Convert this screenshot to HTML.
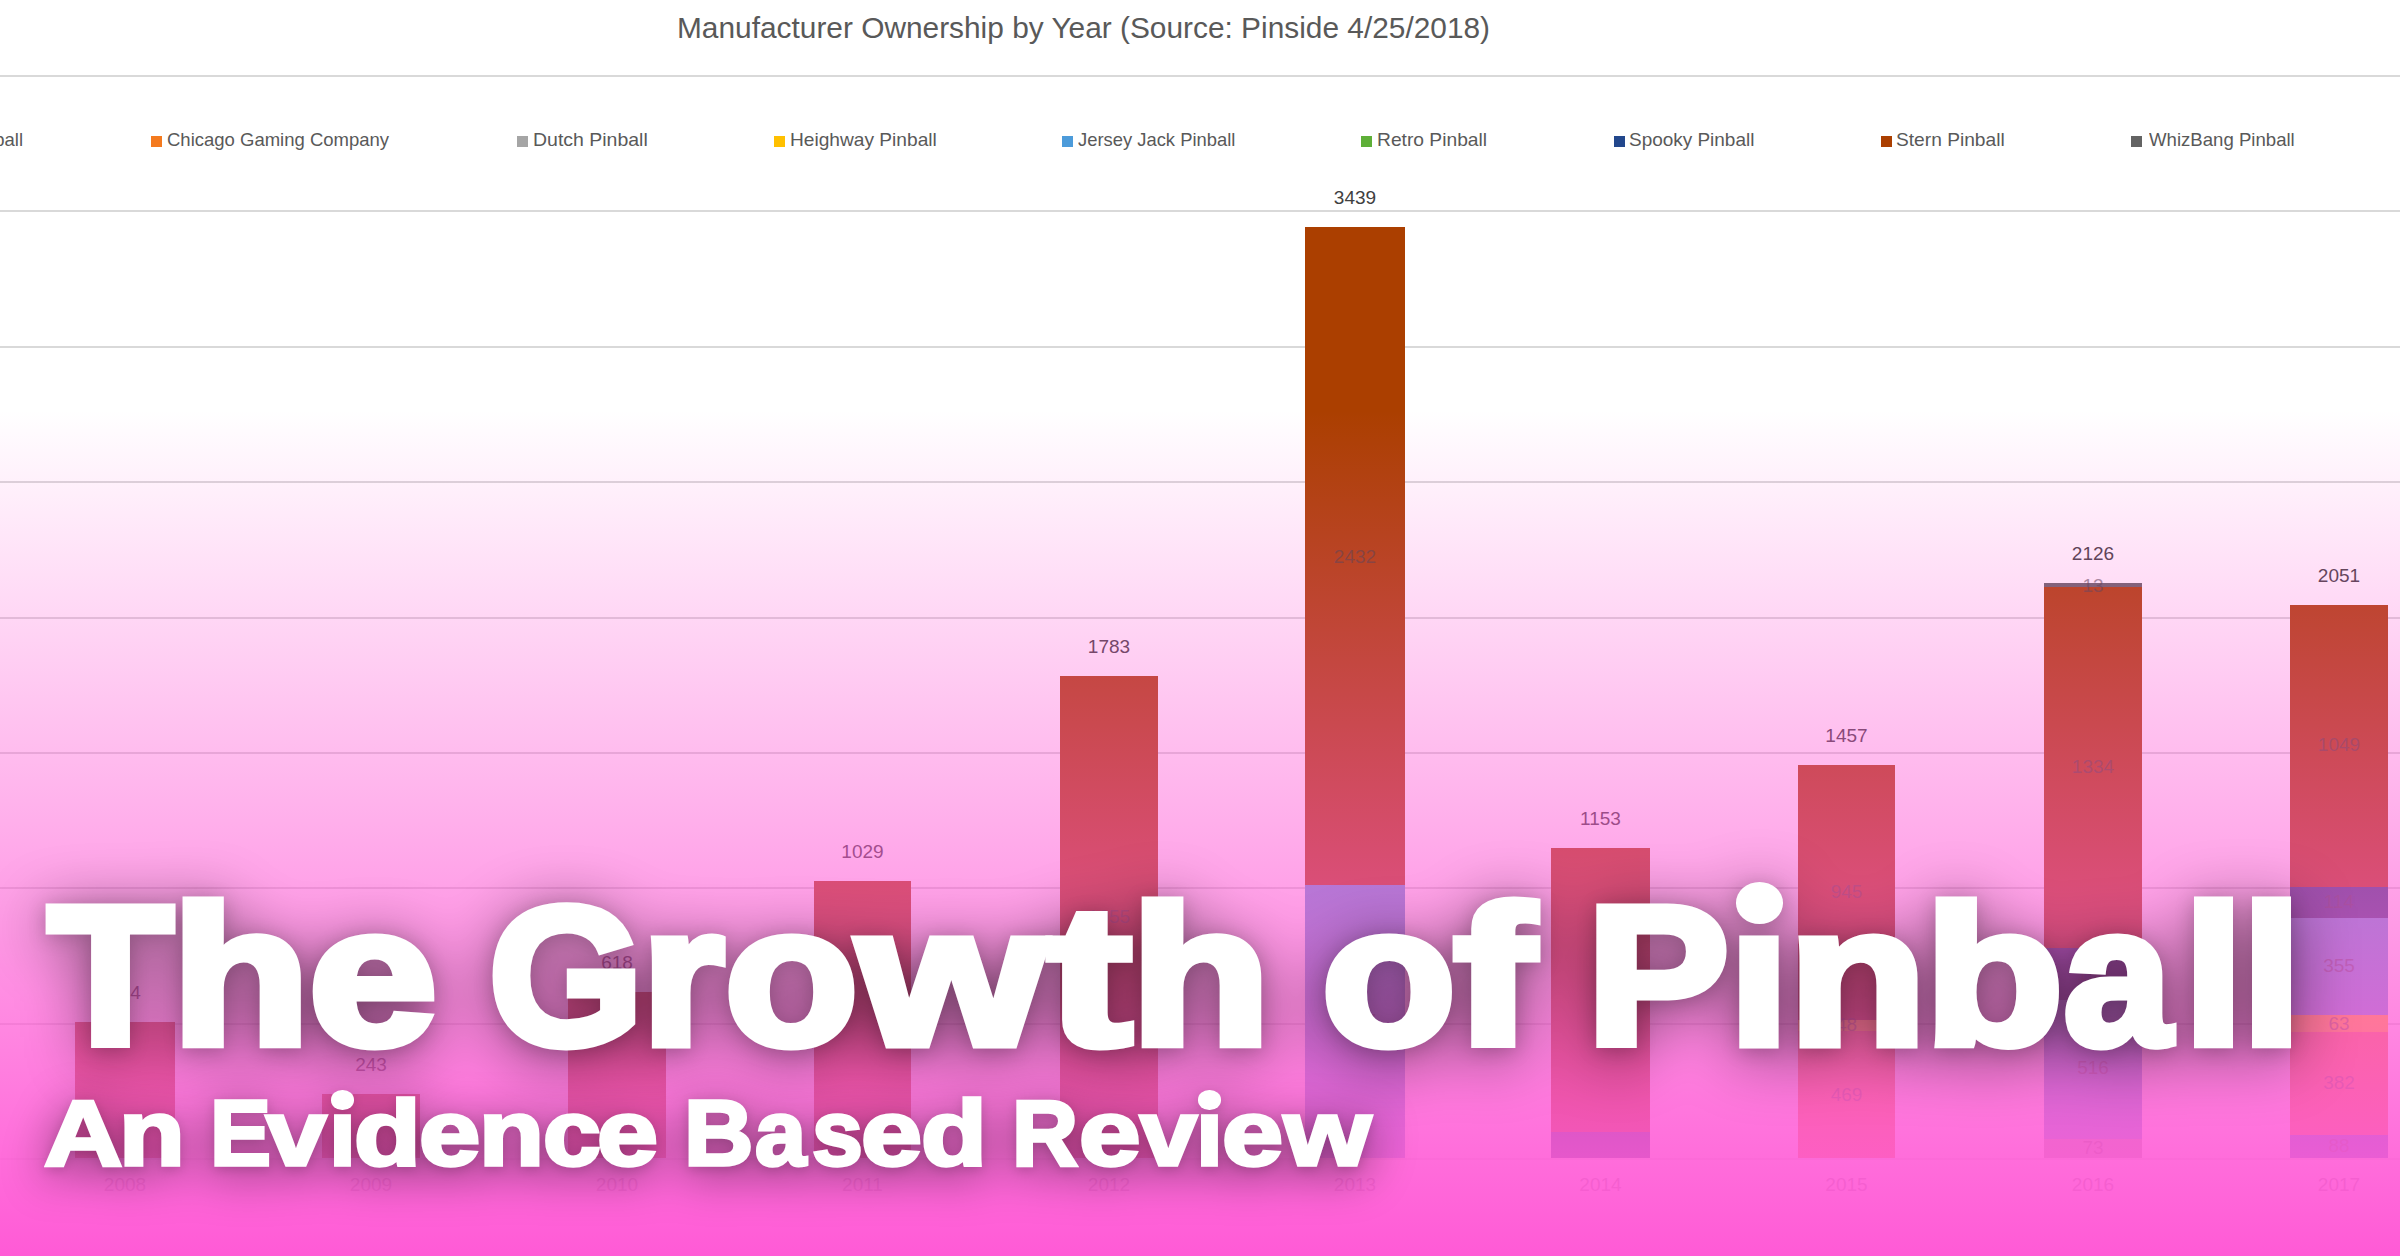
<!DOCTYPE html>
<html><head><meta charset="utf-8"><style>
html,body{margin:0;padding:0;}
body{width:2400px;height:1256px;overflow:hidden;position:relative;background:#fff;font-family:"Liberation Sans",sans-serif;}
.a{position:absolute;}
.g{position:absolute;left:0;width:2400px;height:2px;background:#d9d9d9;}
.lt{position:absolute;font-size:18.5px;color:#595959;white-space:nowrap;line-height:1;transform-origin:0 0;}
.sq{position:absolute;width:11px;height:11px;top:136px;}
.bar{position:absolute;}
.lab{position:absolute;font-size:19px;color:#404040;line-height:1;white-space:nowrap;text-align:center;width:120px;}
.sl{opacity:0.55;}
.yr{position:absolute;font-size:19px;color:#8c8c8c;line-height:1;white-space:nowrap;text-align:center;width:120px;top:1174.5px;}
#ov{position:absolute;left:0;top:0;width:2400px;height:1256px;
 background:linear-gradient(to bottom, rgba(255,90,214,0) 0px, rgba(255,90,214,0) 410px, rgba(255,90,214,1) 1256px);}
.tl{position:absolute;left:0;width:2400px;color:#fff;font-weight:bold;white-space:nowrap;line-height:1;}
.tl span{position:absolute;top:0;transform-origin:0 0;}
.tl .dot{border-radius:50%;background:currentColor;}
.tl.sh{color:#000;-webkit-text-stroke-color:#000;}
.t1{font-size:197px;-webkit-text-stroke:9px #fff;height:200px;}
.t2{font-size:93px;-webkit-text-stroke:3.5px #fff;height:100px;}
</style></head><body>
<div class="a" id="ctitle" style="left:677px;top:12.8px;font-size:30px;color:#595959;white-space:nowrap;line-height:1;transform-origin:0 0;transform:scaleX(0.995);">Manufacturer Ownership by Year (Source: Pinside 4/25/2018)</div>
<div class="g" style="top:75px"></div>
<div class="g" style="top:210px"></div>
<div class="g" style="top:346px"></div>
<div class="g" style="top:481px"></div>
<div class="g" style="top:617px"></div>
<div class="g" style="top:752px"></div>
<div class="g" style="top:887px"></div>
<div class="g" style="top:1023px"></div>
<div class="g" style="top:1158px;background:#e6e6e6"></div>
<div class="lt" style="left:-177px;top:130.8px;width:200px;text-align:right">American Pinball</div>
<div class="sq" style="left:151px;background:#F47A1E"></div><div class="lt" style="left:167.00px;top:130.8px;transform:scaleX(1.0000)">Chicago Gaming Company</div>
<div class="sq" style="left:517px;background:#A5A5A5"></div><div class="lt" style="left:533.35px;top:130.8px;transform:scaleX(1.0523)">Dutch Pinball</div>
<div class="sq" style="left:774px;background:#FFC000"></div><div class="lt" style="left:789.57px;top:130.8px;transform:scaleX(1.0343)">Heighway Pinball</div>
<div class="sq" style="left:1062px;background:#4C9BDA"></div><div class="lt" style="left:1077.76px;top:130.8px;transform:scaleX(0.9936)">Jersey Jack Pinball</div>
<div class="sq" style="left:1361px;background:#5EAF38"></div><div class="lt" style="left:1376.66px;top:130.8px;transform:scaleX(1.0394)">Retro Pinball</div>
<div class="sq" style="left:1614px;background:#22478C"></div><div class="lt" style="left:1628.78px;top:130.8px;transform:scaleX(1.0242)">Spooky Pinball</div>
<div class="sq" style="left:1881px;background:#AB3F00"></div><div class="lt" style="left:1896.26px;top:130.8px;transform:scaleX(1.0359)">Stern Pinball</div>
<div class="sq" style="left:2131px;background:#636363"></div><div class="lt" style="left:2149.00px;top:130.8px;transform:scaleX(1.0052)">WhizBang Pinball</div>
<div class="bar" style="left:75px;width:100px;top:1022px;height:136px;background:#AB3F00"></div><div class="lab" style="left:65.0px;top:983px">504</div>
<div class="bar" style="left:322px;width:98px;top:1094px;height:64px;background:#AB3F00"></div><div class="lab" style="left:311.0px;top:1055px">243</div>
<div class="bar" style="left:568px;width:98px;top:992px;height:166px;background:#AB3F00"></div><div class="lab" style="left:557.0px;top:953px">618</div>
<div class="bar" style="left:814px;width:97px;top:881px;height:277px;background:#AB3F00"></div><div class="lab" style="left:802.5px;top:842px">1029</div>
<div class="bar" style="left:1060px;width:98px;top:676px;height:482px;background:#AB3F00"></div><div class="lab" style="left:1049.0px;top:637px">1783</div><div class="lab sl" style="left:1049.0px;top:907px">1055</div>
<div class="bar" style="left:1305px;width:100px;top:227px;height:658px;background:#AB3F00"></div><div class="bar" style="left:1305px;width:100px;top:885px;height:273px;background:#5B9BD5"></div><div class="lab" style="left:1295.0px;top:188px">3439</div><div class="lab sl" style="left:1295.0px;top:547px">2432</div><div class="lab sl" style="left:1295.0px;top:1011px">1007</div>
<div class="bar" style="left:1551px;width:99px;top:848px;height:284px;background:#AB3F00"></div><div class="bar" style="left:1551px;width:99px;top:1132px;height:26px;background:#264478"></div><div class="lab" style="left:1540.5px;top:809px">1153</div>
<div class="bar" style="left:1798px;width:97px;top:765px;height:255px;background:#AB3F00"></div><div class="bar" style="left:1798px;width:97px;top:1020px;height:11px;background:#FFC000"></div><div class="bar" style="left:1798px;width:97px;top:1031px;height:127px;background:#ED7D31"></div><div class="lab" style="left:1786.5px;top:726px">1457</div><div class="lab sl" style="left:1786.5px;top:882px">945</div><div class="lab sl" style="left:1786.5px;top:1015px">48</div><div class="lab sl" style="left:1786.5px;top:1085px">469</div>
<div class="bar" style="left:2044px;width:98px;top:583px;height:4px;background:#636363"></div><div class="bar" style="left:2044px;width:98px;top:587px;height:361px;background:#AB3F00"></div><div class="bar" style="left:2044px;width:98px;top:948px;height:52px;background:#264478"></div><div class="bar" style="left:2044px;width:98px;top:1000px;height:139px;background:#5B9BD5"></div><div class="bar" style="left:2044px;width:98px;top:1139px;height:19px;background:#A5A5A5"></div><div class="lab" style="left:2033.0px;top:544px">2126</div><div class="lab sl" style="left:2033.0px;top:576px">13</div><div class="lab sl" style="left:2033.0px;top:757px">1334</div><div class="lab sl" style="left:2033.0px;top:964px">190</div><div class="lab sl" style="left:2033.0px;top:1058px">516</div><div class="lab sl" style="left:2033.0px;top:1138px">73</div>
<div class="bar" style="left:2290px;width:98px;top:605px;height:282px;background:#AB3F00"></div><div class="bar" style="left:2290px;width:98px;top:887px;height:31px;background:#264478"></div><div class="bar" style="left:2290px;width:98px;top:918px;height:97px;background:#5B9BD5"></div><div class="bar" style="left:2290px;width:98px;top:1015px;height:17px;background:#FFC000"></div><div class="bar" style="left:2290px;width:98px;top:1032px;height:103px;background:#ED7D31"></div><div class="bar" style="left:2290px;width:98px;top:1135px;height:23px;background:#4472C4"></div><div class="lab" style="left:2279.0px;top:566px">2051</div><div class="lab sl" style="left:2279.0px;top:735px">1049</div><div class="lab sl" style="left:2279.0px;top:892px">114</div><div class="lab sl" style="left:2279.0px;top:956px">355</div><div class="lab sl" style="left:2279.0px;top:1014px">63</div><div class="lab sl" style="left:2279.0px;top:1073px">382</div><div class="lab sl" style="left:2279.0px;top:1136px">88</div>
<div class="yr" style="left:65.0px">2008</div><div class="yr" style="left:311.0px">2009</div><div class="yr" style="left:557.0px">2010</div><div class="yr" style="left:802.5px">2011</div><div class="yr" style="left:1049.0px">2012</div><div class="yr" style="left:1295.0px">2013</div><div class="yr" style="left:1540.5px">2014</div><div class="yr" style="left:1786.5px">2015</div><div class="yr" style="left:2033.0px">2016</div><div class="yr" style="left:2279.0px">2017</div>
<div id="ov"></div>
<div class="tl t1 sh" style="top:881px;filter:blur(10px);opacity:0.2"><span style="left:48.24px;transform:scaleX(1.0391)">T</span><span style="left:171.97px;transform:scaleX(1.1434)">h</span><span style="left:308.79px;transform:scaleX(1.1671)">e</span><span style="left:489.46px;transform:scaleX(1.0053)">G</span><span style="left:642.02px;transform:scaleX(1.0708)">r</span><span style="left:724.79px;transform:scaleX(1.1045)">o</span><span style="left:858.32px;transform:scaleX(1.2205)">w</span><span style="left:1048.02px;transform:scaleX(1.2736)">t</span><span style="left:1131.45px;transform:scaleX(1.156)">h</span><span style="left:1322.07px;transform:scaleX(1.1098)">o</span><span style="left:1453.56px;transform:scaleX(1.2267)">f</span><span style="left:1586.71px;transform:scaleX(1.0797)">P</span><span style="left:1729.06px;transform:scaleX(1.0899)">ı</span><span style="left:1788.55px;transform:scaleX(1.1409)">n</span><span style="left:1925.17px;transform:scaleX(1.1478)">b</span><span style="left:2063.5px;transform:scaleX(0.9751)">a</span><span style="left:2183.93px;transform:scaleX(1.0821)">l</span><span style="left:2241.93px;transform:scaleX(1.0821)">l</span><span class="dot" style="left:1735.6px;top:3.8px;width:47.6px;height:42.2px"></span></div>
<div class="tl t1 sh" style="top:888px;filter:blur(32px);opacity:0.55"><span style="left:48.24px;transform:scaleX(1.0391)">T</span><span style="left:171.97px;transform:scaleX(1.1434)">h</span><span style="left:308.79px;transform:scaleX(1.1671)">e</span><span style="left:489.46px;transform:scaleX(1.0053)">G</span><span style="left:642.02px;transform:scaleX(1.0708)">r</span><span style="left:724.79px;transform:scaleX(1.1045)">o</span><span style="left:858.32px;transform:scaleX(1.2205)">w</span><span style="left:1048.02px;transform:scaleX(1.2736)">t</span><span style="left:1131.45px;transform:scaleX(1.156)">h</span><span style="left:1322.07px;transform:scaleX(1.1098)">o</span><span style="left:1453.56px;transform:scaleX(1.2267)">f</span><span style="left:1586.71px;transform:scaleX(1.0797)">P</span><span style="left:1729.06px;transform:scaleX(1.0899)">ı</span><span style="left:1788.55px;transform:scaleX(1.1409)">n</span><span style="left:1925.17px;transform:scaleX(1.1478)">b</span><span style="left:2063.5px;transform:scaleX(0.9751)">a</span><span style="left:2183.93px;transform:scaleX(1.0821)">l</span><span style="left:2241.93px;transform:scaleX(1.0821)">l</span><span class="dot" style="left:1735.6px;top:3.8px;width:47.6px;height:42.2px"></span></div>
<div class="tl t1" style="top:878px"><span style="left:48.24px;transform:scaleX(1.0391)">T</span><span style="left:171.97px;transform:scaleX(1.1434)">h</span><span style="left:308.79px;transform:scaleX(1.1671)">e</span><span style="left:489.46px;transform:scaleX(1.0053)">G</span><span style="left:642.02px;transform:scaleX(1.0708)">r</span><span style="left:724.79px;transform:scaleX(1.1045)">o</span><span style="left:858.32px;transform:scaleX(1.2205)">w</span><span style="left:1048.02px;transform:scaleX(1.2736)">t</span><span style="left:1131.45px;transform:scaleX(1.156)">h</span><span style="left:1322.07px;transform:scaleX(1.1098)">o</span><span style="left:1453.56px;transform:scaleX(1.2267)">f</span><span style="left:1586.71px;transform:scaleX(1.0797)">P</span><span style="left:1729.06px;transform:scaleX(1.0899)">ı</span><span style="left:1788.55px;transform:scaleX(1.1409)">n</span><span style="left:1925.17px;transform:scaleX(1.1478)">b</span><span style="left:2063.5px;transform:scaleX(0.9751)">a</span><span style="left:2183.93px;transform:scaleX(1.0821)">l</span><span style="left:2241.93px;transform:scaleX(1.0821)">l</span><span class="dot" style="left:1735.6px;top:3.8px;width:47.6px;height:42.2px"></span></div>
<div class="tl t2 sh" style="top:1089.8px;filter:blur(6px);opacity:0.15"><span style="left:44.42px;transform:scaleX(1.1667)">A</span><span style="left:119.03px;transform:scaleX(1.158)">n</span><span style="left:210.37px;transform:scaleX(0.9824)">E</span><span style="left:266.26px;transform:scaleX(1.1656)">v</span><span style="left:328.74px;transform:scaleX(1.0388)">ı</span><span style="left:354.28px;transform:scaleX(1.1746)">d</span><span style="left:419.33px;transform:scaleX(1.1848)">e</span><span style="left:479.29px;transform:scaleX(1.1435)">n</span><span style="left:542.76px;transform:scaleX(1.1182)">c</span><span style="left:597.34px;transform:scaleX(1.1786)">e</span><span style="left:683.64px;transform:scaleX(1.0334)">B</span><span style="left:754.71px;transform:scaleX(0.9887)">a</span><span style="left:811.91px;transform:scaleX(0.9821)">s</span><span style="left:861.34px;transform:scaleX(1.1786)">e</span><span style="left:920.61px;transform:scaleX(1.1587)">d</span><span style="left:1011.87px;transform:scaleX(0.9826)">R</span><span style="left:1078.82px;transform:scaleX(1.189)">e</span><span style="left:1139.95px;transform:scaleX(1.1005)">v</span><span style="left:1196.04px;transform:scaleX(1.0388)">ı</span><span style="left:1221.94px;transform:scaleX(1.1807)">e</span><span style="left:1284.26px;transform:scaleX(1.202)">w</span><span class="dot" style="left:331px;top:3.4px;width:22.5px;height:19.5px"></span><span class="dot" style="left:1198.4px;top:3.6px;width:22.5px;height:19.3px"></span></div>
<div class="tl t2 sh" style="top:1095.8px;filter:blur(24px);opacity:0.55"><span style="left:44.42px;transform:scaleX(1.1667)">A</span><span style="left:119.03px;transform:scaleX(1.158)">n</span><span style="left:210.37px;transform:scaleX(0.9824)">E</span><span style="left:266.26px;transform:scaleX(1.1656)">v</span><span style="left:328.74px;transform:scaleX(1.0388)">ı</span><span style="left:354.28px;transform:scaleX(1.1746)">d</span><span style="left:419.33px;transform:scaleX(1.1848)">e</span><span style="left:479.29px;transform:scaleX(1.1435)">n</span><span style="left:542.76px;transform:scaleX(1.1182)">c</span><span style="left:597.34px;transform:scaleX(1.1786)">e</span><span style="left:683.64px;transform:scaleX(1.0334)">B</span><span style="left:754.71px;transform:scaleX(0.9887)">a</span><span style="left:811.91px;transform:scaleX(0.9821)">s</span><span style="left:861.34px;transform:scaleX(1.1786)">e</span><span style="left:920.61px;transform:scaleX(1.1587)">d</span><span style="left:1011.87px;transform:scaleX(0.9826)">R</span><span style="left:1078.82px;transform:scaleX(1.189)">e</span><span style="left:1139.95px;transform:scaleX(1.1005)">v</span><span style="left:1196.04px;transform:scaleX(1.0388)">ı</span><span style="left:1221.94px;transform:scaleX(1.1807)">e</span><span style="left:1284.26px;transform:scaleX(1.202)">w</span><span class="dot" style="left:331px;top:3.4px;width:22.5px;height:19.5px"></span><span class="dot" style="left:1198.4px;top:3.6px;width:22.5px;height:19.3px"></span></div>
<div class="tl t2" style="top:1086.8px"><span style="left:44.42px;transform:scaleX(1.1667)">A</span><span style="left:119.03px;transform:scaleX(1.158)">n</span><span style="left:210.37px;transform:scaleX(0.9824)">E</span><span style="left:266.26px;transform:scaleX(1.1656)">v</span><span style="left:328.74px;transform:scaleX(1.0388)">ı</span><span style="left:354.28px;transform:scaleX(1.1746)">d</span><span style="left:419.33px;transform:scaleX(1.1848)">e</span><span style="left:479.29px;transform:scaleX(1.1435)">n</span><span style="left:542.76px;transform:scaleX(1.1182)">c</span><span style="left:597.34px;transform:scaleX(1.1786)">e</span><span style="left:683.64px;transform:scaleX(1.0334)">B</span><span style="left:754.71px;transform:scaleX(0.9887)">a</span><span style="left:811.91px;transform:scaleX(0.9821)">s</span><span style="left:861.34px;transform:scaleX(1.1786)">e</span><span style="left:920.61px;transform:scaleX(1.1587)">d</span><span style="left:1011.87px;transform:scaleX(0.9826)">R</span><span style="left:1078.82px;transform:scaleX(1.189)">e</span><span style="left:1139.95px;transform:scaleX(1.1005)">v</span><span style="left:1196.04px;transform:scaleX(1.0388)">ı</span><span style="left:1221.94px;transform:scaleX(1.1807)">e</span><span style="left:1284.26px;transform:scaleX(1.202)">w</span><span class="dot" style="left:331px;top:3.4px;width:22.5px;height:19.5px"></span><span class="dot" style="left:1198.4px;top:3.6px;width:22.5px;height:19.3px"></span></div>
</body></html>
